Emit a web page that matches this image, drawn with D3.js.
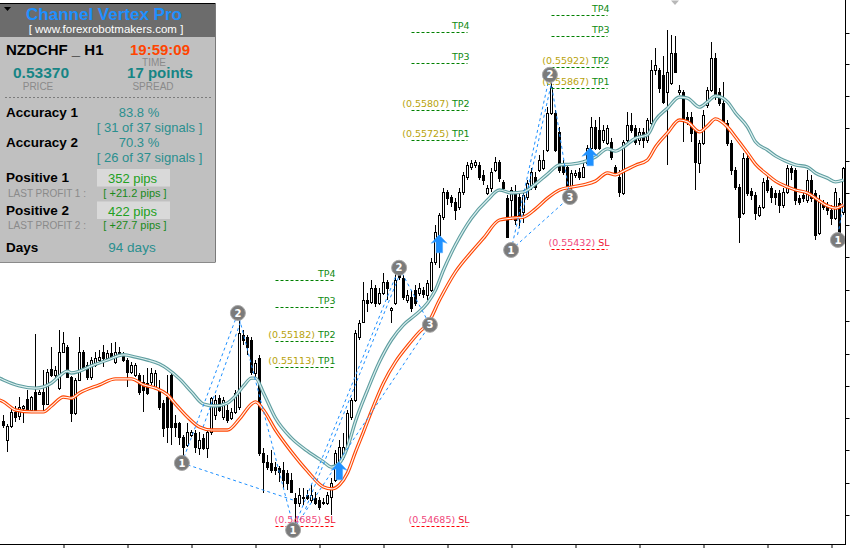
<!DOCTYPE html>
<html><head><meta charset="utf-8">
<script src="https://cdn.jsdelivr.net/npm/d3@7"></script>
<style>body{margin:0;background:#fff}svg{display:block}</style>
</head><body><svg id="c" width="850" height="548"></svg>
<script>
// ---------------- DATA ----------------
const symbol = "NZDCHF _ H1";
const open = [
0.54967,0.54916,0.54954,0.54992,0.54981,0.55002,0.55027,0.54997,0.55046,0.55040,
0.55046,0.55013,0.55108,0.55092,0.55056,0.55154,0.55167,0.55086,0.54989,0.55078,
0.55154,0.55119,0.55086,0.55119,0.55132,0.55154,0.55137,0.55151,0.55127,0.55154,
0.55146,0.55132,0.55100,0.55092,0.55092,0.55073,0.55070,0.55073,0.55059,0.55051,
0.55016,0.55032,0.55092,0.54962,0.54962,0.54924,0.54903,0.54930,0.54935,0.54894,
0.54921,0.54894,0.54938,0.54984,0.55029,0.54978,0.54997,0.54975,0.54992,0.55005,
0.55200,0.55194,0.55186,0.55097,0.55137,0.54881,0.54857,0.54854,0.54843,0.54840,
0.54835,0.54827,0.54808,0.54759,0.54746,0.54759,0.54768,0.54754,0.54759,0.54754,
0.54749,0.54746,0.54762,0.54808,0.54827,0.54870,0.54897,0.54978,0.55024,0.55194,
0.55235,0.55294,0.55289,0.55326,0.55286,0.55313,0.55343,0.55267,0.55286,0.55370,
0.55353,0.55294,0.55302,0.55321,0.55313,0.55321,0.55308,0.55321,0.55397,0.55470,
0.55518,0.55586,0.55572,0.55559,0.55545,0.55586,0.55626,0.55653,0.55659,0.55659,
0.55632,0.55583,0.55596,0.55645,0.55667,0.55613,0.55569,0.55564,0.55583,0.55572,
0.55532,0.55572,0.55605,0.55626,0.55645,0.55650,0.55699,0.55799,0.55799,0.55748,
0.55659,0.55653,0.55599,0.55632,0.55640,0.55626,0.55664,0.55704,0.55761,0.55753,
0.55726,0.55718,0.55721,0.55653,0.55626,0.55583,0.55726,0.55767,0.55758,0.55726,
0.55748,0.55726,0.55772,0.55915,0.55915,0.55901,0.55856,0.55880,0.55961,0.55856,
0.55856,0.55788,0.55788,0.55753,0.55664,0.55718,0.55820,0.55861,0.55947,0.55856,
0.55826,0.55772,0.55718,0.55645,0.55599,0.55529,0.55677,0.55588,0.55578,0.55524,
0.55545,0.55618,0.55596,0.55583,0.55583,0.55551,0.55586,0.55650,0.55645,0.55569,
0.55578,0.55564,0.55618,0.55583,0.55475,0.55556,0.55545,0.55537,0.55515,0.55556,
0.55532];
const high = [
0.54984,0.54959,0.55005,0.55008,0.55032,0.55011,0.55051,0.55035,0.55202,0.55051,
0.55105,0.55108,0.55167,0.55116,0.55213,0.55208,0.55173,0.55089,0.55083,0.55194,
0.55159,0.55127,0.55140,0.55154,0.55159,0.55173,0.55159,0.55178,0.55181,0.55167,
0.55154,0.55137,0.55127,0.55124,0.55097,0.55092,0.55110,0.55110,0.55105,0.55078,
0.55024,0.55092,0.55097,0.54984,0.54965,0.54930,0.54962,0.54943,0.54943,0.54938,
0.54932,0.54943,0.55032,0.55038,0.55038,0.55032,0.55011,0.55002,0.55051,0.55245,
0.55213,0.55200,0.55194,0.55132,0.55146,0.54894,0.54876,0.54889,0.54857,0.54846,
0.54857,0.54835,0.54827,0.54773,0.54786,0.54786,0.54781,0.54795,0.54776,0.54762,
0.54759,0.54776,0.54813,0.54889,0.54916,0.54935,0.54997,0.55029,0.55213,0.55240,
0.55343,0.55313,0.55348,0.55334,0.55326,0.55367,0.55348,0.55275,0.55367,0.55386,
0.55362,0.55321,0.55321,0.55334,0.55340,0.55329,0.55348,0.55407,0.55497,0.55529,
0.55596,0.55591,0.55578,0.55569,0.55596,0.55640,0.55667,0.55672,0.55672,0.55667,
0.55645,0.55605,0.55650,0.55680,0.55672,0.55618,0.55578,0.55599,0.55605,0.55583,
0.55591,0.55618,0.55650,0.55640,0.55686,0.55699,0.55815,0.55893,0.55807,0.55761,
0.55672,0.55659,0.55645,0.55645,0.55650,0.55672,0.55713,0.55788,0.55780,0.55788,
0.55767,0.55767,0.55731,0.55659,0.55645,0.55726,0.55802,0.55799,0.55767,0.55758,
0.55758,0.55785,0.55942,0.55974,0.55920,0.55953,0.56023,0.56009,0.56007,0.55874,
0.55861,0.55802,0.55802,0.55758,0.55726,0.55807,0.55869,0.55991,0.55961,0.55866,
0.55883,0.55780,0.55726,0.55653,0.55607,0.55691,0.55686,0.55596,0.55586,0.55551,
0.55623,0.55632,0.55602,0.55591,0.55591,0.55596,0.55659,0.55656,0.55650,0.55578,
0.55586,0.55645,0.55632,0.55591,0.55578,0.55564,0.55559,0.55551,0.55596,0.55569,
0.55653];
const low = [
0.54948,0.54884,0.54948,0.54965,0.54970,0.54962,0.54992,0.54992,0.54994,0.55038,
0.54992,0.55011,0.55086,0.55083,0.55051,0.55151,0.55083,0.54965,0.54984,0.55075,
0.55105,0.55078,0.55078,0.55113,0.55127,0.55113,0.55132,0.55132,0.55121,0.55143,
0.55127,0.55059,0.55094,0.55086,0.55038,0.54992,0.55038,0.55065,0.55051,0.54997,
0.54924,0.54908,0.54903,0.54924,0.54903,0.54870,0.54897,0.54924,0.54881,0.54876,
0.54889,0.54867,0.54930,0.54970,0.54992,0.54970,0.54962,0.54970,0.54986,0.54997,
0.55173,0.55146,0.55092,0.55083,0.54873,0.54773,0.54835,0.54827,0.54822,0.54803,
0.54786,0.54781,0.54773,0.54673,0.54735,0.54741,0.54754,0.54746,0.54741,0.54727,
0.54741,0.54741,0.54714,0.54803,0.54816,0.54862,0.54894,0.54970,0.55019,0.55186,
0.55232,0.55262,0.55283,0.55275,0.55281,0.55308,0.55294,0.55232,0.55281,0.55348,
0.55294,0.55286,0.55262,0.55278,0.55305,0.55300,0.55294,0.55316,0.55389,0.55380,
0.55510,0.55551,0.55545,0.55510,0.55537,0.55578,0.55618,0.55645,0.55650,0.55618,
0.55605,0.55578,0.55586,0.55640,0.55613,0.55586,0.55461,0.55510,0.55497,0.55488,
0.55502,0.55564,0.55591,0.55591,0.55640,0.55645,0.55694,0.55794,0.55694,0.55637,
0.55632,0.55591,0.55591,0.55623,0.55618,0.55623,0.55659,0.55699,0.55699,0.55699,
0.55718,0.55713,0.55672,0.55632,0.55572,0.55578,0.55721,0.55745,0.55713,0.55713,
0.55704,0.55718,0.55767,0.55901,0.55853,0.55823,0.55658,0.55874,0.55907,0.55848,
0.55721,0.55767,0.55721,0.55591,0.55637,0.55713,0.55812,0.55856,0.55834,0.55818,
0.55767,0.55710,0.55632,0.55591,0.55448,0.55524,0.55575,0.55564,0.55510,0.55518,
0.55540,0.55583,0.55556,0.55551,0.55529,0.55542,0.55580,0.55618,0.55551,0.55551,
0.55559,0.55556,0.55559,0.55456,0.55470,0.55537,0.55524,0.55497,0.55510,0.55456,
0.55524];
const close = [
0.54957,0.54954,0.54992,0.54978,0.55005,0.55008,0.54997,0.55032,0.54997,0.55046,
0.55013,0.55100,0.55092,0.55105,0.55154,0.55178,0.55086,0.54989,0.55078,0.55154,
0.55113,0.55086,0.55132,0.55137,0.55140,0.55137,0.55151,0.55137,0.55154,0.55151,
0.55132,0.55100,0.55119,0.55119,0.55046,0.55051,0.55043,0.55097,0.55097,0.55005,
0.54948,0.54951,0.54951,0.54951,0.54924,0.54897,0.54938,0.54938,0.54897,0.54916,
0.54894,0.54938,0.55029,0.55024,0.54997,0.55024,0.54970,0.54992,0.55043,0.55205,
0.55186,0.55167,0.55100,0.55124,0.54881,0.54857,0.54843,0.54835,0.54835,0.54830,
0.54808,0.54800,0.54776,0.54746,0.54768,0.54762,0.54759,0.54768,0.54746,0.54735,
0.54746,0.54768,0.54800,0.54881,0.54897,0.54897,0.54989,0.55024,0.55205,0.55232,
0.55294,0.55286,0.55326,0.55286,0.55313,0.55343,0.55326,0.55272,0.55348,0.55356,
0.55302,0.55308,0.55272,0.55286,0.55326,0.55310,0.55340,0.55397,0.55478,0.55524,
0.55586,0.55569,0.55559,0.55537,0.55586,0.55632,0.55659,0.55664,0.55667,0.55626,
0.55618,0.55596,0.55640,0.55667,0.55623,0.55596,0.55464,0.55591,0.55510,0.55518,
0.55578,0.55610,0.55640,0.55599,0.55672,0.55672,0.55799,0.55869,0.55699,0.55645,
0.55640,0.55599,0.55637,0.55637,0.55626,0.55653,0.55704,0.55761,0.55704,0.55704,
0.55753,0.55758,0.55680,0.55640,0.55586,0.55721,0.55767,0.55753,0.55721,0.55748,
0.55726,0.55780,0.55915,0.55928,0.55866,0.55829,0.55910,0.55961,0.55910,0.55861,
0.55780,0.55780,0.55745,0.55667,0.55718,0.55794,0.55861,0.55947,0.55848,0.55826,
0.55772,0.55718,0.55645,0.55599,0.55518,0.55677,0.55583,0.55578,0.55529,0.55545,
0.55613,0.55591,0.55572,0.55572,0.55551,0.55586,0.55650,0.55640,0.55564,0.55559,
0.55569,0.55618,0.55569,0.55470,0.55564,0.55545,0.55537,0.55515,0.55586,0.55475,
0.55650];

// channel lines (sampled at bar index)
const tealIdx = [-1,0,4,8,12,14,16,17,19,22,26,30,33,36,39,41,44,47,50,53,56,58,60,62,63,65,68,72,76,80,82,84,86,88,91,94,97,100,103,106,108,110,113,117,121,124,127,130,133,136,139,142,145,148,151,153,155,158,161,163,166,169,171,174,176,178,181,183,186,188,191,193,196,198,201,203,206,208,210];
const tealVal = [0.55083,0.55078,0.55062,0.55056,0.55070,0.55089,0.55102,0.55097,0.55102,0.55116,0.55132,0.55146,0.55140,0.55132,0.55121,0.55108,0.55081,0.55046,0.55013,0.55008,0.55016,0.55035,0.55062,0.55083,0.55083,0.55043,0.54975,0.54921,0.54886,0.54857,0.54843,0.54854,0.54897,0.54967,0.55051,0.55127,0.55186,0.55227,0.55254,0.55286,0.55321,0.55375,0.55443,0.55515,0.55564,0.55591,0.55583,0.55586,0.55607,0.55634,0.55659,0.55661,0.55667,0.55680,0.55702,0.55696,0.55707,0.55731,0.55740,0.55780,0.55812,0.55842,0.55839,0.55815,0.55829,0.55845,0.55829,0.55799,0.55761,0.55721,0.55699,0.55683,0.55667,0.55659,0.55653,0.55637,0.55623,0.55613,0.55618];
const orangeIdx = [-1,0,3,7,10,12,15,17,19,24,28,32,35,38,41,43,46,49,52,56,59,62,63,65,68,72,76,80,82,84,86,88,90,92,95,98,101,104,106,109,113,117,120,124,127,130,133,136,139,142,145,148,151,153,155,158,161,163,166,169,171,174,176,178,181,183,186,188,191,193,196,198,201,203,206,208,210];
const orangeVal = [0.55024,0.55019,0.54997,0.54992,0.54992,0.55008,0.55032,0.55029,0.55043,0.55065,0.55081,0.55081,0.55065,0.55056,0.55038,0.55013,0.54978,0.54951,0.54943,0.54943,0.54973,0.55013,0.55019,0.54997,0.54943,0.54884,0.54832,0.54789,0.54784,0.54795,0.54827,0.54884,0.54938,0.54994,0.55070,0.55127,0.55170,0.55208,0.55229,0.55294,0.55370,0.55424,0.55461,0.55510,0.55515,0.55518,0.55540,0.55569,0.55591,0.55599,0.55605,0.55615,0.55637,0.55632,0.55642,0.55658,0.55672,0.55707,0.55745,0.55780,0.55775,0.55748,0.55764,0.55783,0.55761,0.55734,0.55691,0.55661,0.55632,0.55615,0.55599,0.55591,0.55583,0.55569,0.55548,0.55542,0.55551];

// pattern (dashed) segments: [barIndex, price] pairs
const patternLines = [
 [[44.6,0.54854],[58.6,0.55259]],
 [[49.9,0.54951],[59.9,0.55254]],
 [[58.6,0.55259],[72.4,0.54686]],
 [[44.6,0.54854],[72.4,0.54754]],
 [[72.4,0.54673],[98.9,0.55381]],
 [[75.5,0.54730],[99.6,0.55378]],
 [[72.4,0.54673],[106.6,0.55227]],
 [[98.9,0.55381],[106.6,0.55227]],
 [[126.9,0.55429],[136.6,0.55902]],
 [[128.5,0.55470],[137.2,0.55890]],
 [[136.6,0.55902],[141.6,0.55572]],
 [[126.9,0.55429],[141.6,0.55572]],
 [[208.6,0.55469],[209.9,0.55551]]
];
const pointIdx   = [44.6, 58.6, 72.4, 98.9, 106.6, 126.9, 136.6, 141.6, 208.6];
const pointPrice = [0.54854,0.55259,0.54673,0.55381,0.55227,0.55429,0.55902,0.55572,0.55456];
const pointNum   = [1,2,1,2,3,1,2,3,1];
const arrowIdx   = [83.9, 108.9, 146.6];
const arrowPrice = [0.54857, 0.55470, 0.55705];

// target / stop levels
const setFrom = [68, 102, 137];
const setTo   = [82.5, 116, 151];
const tp1 = [0.55113, 0.55725, 0.55867];
const tp2 = [0.55182, 0.55807, 0.55922];
const tp3 = [0.55275, 0.55934, 0.56007];
const tp4 = [0.55348, 0.56018, 0.56064];
const sl  = [0.54685, 0.54685, 0.55432];

// axes (labels lie outside the visible window in the reference)
const yTicks = [0.56016,0.55931,0.55845,0.55758,0.55670,0.55582,0.55496,0.55409,0.55321,0.55236,0.55149,0.55062,0.54975,0.54889,0.54801,0.54714];
const xTicks = [15,31,47,63,79,95,111,127,143,159,175,191,207];

// info panel texts
const panelTitle = "Channel Vertex Pro";
const panelSite = "[ www.forexrobotmakers.com ]";
const panelTime = "19:59:09", panelPrice = "0.53370", panelSpread = "17 points";
const accLabels = ["Accuracy 1","Accuracy 2"];
const accPct = ["83.8 %","70.3 %"];
const accSig = ["[ 31 of 37 signals ]","[ 26 of 37 signals ]"];
const posLabels = ["Positive 1","Positive 2"];
const posPips = ["352 pips","422 pips"];
const lastLabels = ["LAST PROFIT 1 :","LAST PROFIT 2 :"];
const lastPips = ["[ +21.2 pips ]","[ +27.7 pips ]"];
const daysText = "94 days";

// ---------------- DRAW ----------------
const W = 850, H = 548;
const svg = d3.select('#c');
svg.append('rect').attr('width',W).attr('height',H).attr('fill','#fff');
const x = d3.scaleLinear().domain([0,210]).range([3.5,843.5]);
const y = d3.scaleLinear().domain([0.56104,0.54754]).range([0,500]);
svg.append('defs').append('clipPath').attr('id','clip')
  .append('rect').attr('x',0).attr('y',0).attr('width',845.5).attr('height',544.5);
const plot = svg.append('g').attr('clip-path','url(#clip)');

const bars = d3.range(open.length);
plot.append('g').selectAll('line').data(bars).join('line')
  .attr('x1',i=>x(i)).attr('x2',i=>x(i))
  .attr('y1',i=>Math.round(y(high[i]))).attr('y2',i=>Math.round(y(low[i])))
  .attr('stroke','#000').attr('stroke-width',1);
plot.append('g').selectAll('rect').data(bars).join('rect')
  .attr('x',i=>x(i)-1)
  .attr('y',i=>Math.round(y(Math.max(open[i],close[i])))+0.5)
  .attr('width',2)
  .attr('height',i=>Math.max(0,Math.round(y(Math.min(open[i],close[i])))-Math.round(y(Math.max(open[i],close[i])))))
  .attr('fill',i=>close[i]>=open[i]?'#fff':'#000')
  .attr('stroke','#000').attr('stroke-width',1);

// channel lines
const ln = d3.line().x(d=>x(d[0])).y(d=>y(d[1])).curve(d3.curveMonotoneX);
const tealPts = tealIdx.map((v,k)=>[v,tealVal[k]]);
const orPts = orangeIdx.map((v,k)=>[v,orangeVal[k]]);
plot.append('path').attr('d',ln(tealPts)).attr('fill','none').attr('stroke','#5f9ea0').attr('stroke-width',3.4);
plot.append('path').attr('d',ln(tealPts)).attr('fill','none').attr('stroke','#dcefef').attr('stroke-width',1.2);
plot.append('path').attr('d',ln(orPts)).attr('fill','none').attr('stroke','#ff4500').attr('stroke-width',3.4);
plot.append('path').attr('d',ln(orPts)).attr('fill','none').attr('stroke','#fff4ee').attr('stroke-width',1.2);

// pattern dashed lines
const segLine = d3.line().x(d=>x(d[0])).y(d=>y(d[1]));
plot.append('g').selectAll('path').data(patternLines).join('path')
  .attr('d',d=>segLine(d)).attr('fill','none')
  .attr('stroke','#1e90ff').attr('stroke-width',1).attr('stroke-dasharray','3,3');

// TP / SL levels
const lvlG = plot.append('g').attr('font-family','DejaVu Sans, Verdana, sans-serif').attr('font-size',9.5);
setFrom.forEach((f,s)=>{
  const levels = [tp1[s],tp2[s],tp3[s],tp4[s]];
  levels.forEach((v,k)=>{
    const yy = Math.round(y(v))+0.5;
    lvlG.append('line').attr('x1',x(f)).attr('x2',x(setTo[s])).attr('y1',yy).attr('y2',yy)
      .attr('stroke','#008000').attr('stroke-dasharray','3,2');
    const t = lvlG.append('text').attr('x',x(setTo[s])+2).attr('y',yy-3.5).attr('text-anchor','end');
    if(k<2) t.append('tspan').attr('fill','#b8a20a').text('('+d3.format('.5f')(v)+')');
    t.append('tspan').attr('fill','#108a10').text((k<2?' ':'')+'TP'+(k+1));
  });
  const ys = Math.round(y(sl[s]))+0.5;
  lvlG.append('line').attr('x1',x(f)).attr('x2',x(setTo[s])).attr('y1',ys).attr('y2',ys)
    .attr('stroke','#ff0000').attr('stroke-dasharray','3,2');
  const ts = lvlG.append('text').attr('x',x(setTo[s])+2).attr('y',ys-3.5).attr('text-anchor','end');
  ts.append('tspan').attr('fill','#f0457a').text('('+d3.format('.5f')(sl[s])+')');
  ts.append('tspan').attr('fill','#ee1133').text(' SL');
});

// arrows
plot.append('g').selectAll('path').data(arrowIdx.map((v,k)=>[v,arrowPrice[k]])).join('path')
  .attr('transform',d=>`translate(${x(d[0])},${y(d[1])})`)
  .attr('d','M0,0 L8,8.5 L3.5,7 L3.5,18 L-3,18 L-3,7 L-8,8.5 Z')
  .attr('fill','#1e90ff').attr('stroke','#4aa8ff').attr('stroke-width',0.5);

// pattern points
const pg = plot.append('g').selectAll('g').data(pointIdx.map((v,k)=>[v,pointPrice[k],pointNum[k]])).join('g')
  .attr('transform',d=>`translate(${x(d[0])},${y(d[1])})`);
pg.append('circle').attr('r',7.5).attr('fill','#7b7b7b').attr('stroke','#a8a8a8').attr('stroke-width',1);
pg.append('text').attr('text-anchor','middle').attr('dy','0.36em')
  .attr('font-family','DejaVu Sans, sans-serif').attr('font-weight','bold').attr('font-size',10)
  .attr('fill','#fff').text(d=>d[2]);

// chart-shift marker
svg.append('path').attr('d','M671,0.5 L679,0.5 L675,5 Z').attr('fill','#b8b8b8');

// axes / frame
svg.append('line').attr('x1',845.5).attr('x2',845.5).attr('y1',0).attr('y2',545).attr('stroke','#000');
svg.append('line').attr('x1',0).attr('x2',846).attr('y1',544.5).attr('y2',544.5).attr('stroke','#000');
const ya = svg.append('g').attr('transform','translate(845.5,0)')
  .call(d3.axisRight(y).tickValues(yTicks).tickSize(4).tickSizeOuter(0).tickFormat(''));
ya.select('.domain').remove();
ya.selectAll('.tick').attr('transform',d=>`translate(0,${Math.round(y(d))+0.5})`);
ya.selectAll('.tick line').attr('stroke','#000');
const xa = svg.append('g').attr('transform','translate(0,544.5)')
  .call(d3.axisBottom(x).tickValues(xTicks).tickSize(4).tickSizeOuter(0).tickFormat(''));
xa.select('.domain').remove();
xa.selectAll('.tick line').attr('stroke','#000');

// ---------------- INFO PANEL ----------------
const P = svg.append('g').attr('font-family','Liberation Sans, Arial, sans-serif');
P.append('rect').attr('x',0).attr('y',3).attr('width',215).attr('height',259).attr('fill','#c0c0c0');
P.append('rect').attr('x',0).attr('y',4).attr('width',215).attr('height',33).attr('fill','#6c6c6c');
P.append('line').attr('x1',0).attr('x2',215).attr('y1',3.5).attr('y2',3.5).attr('stroke','#000');
P.append('line').attr('x1',215.5).attr('x2',215.5).attr('y1',3).attr('y2',262.5).attr('stroke','#7a7a7a');
P.append('line').attr('x1',0).attr('x2',215).attr('y1',262.5).attr('y2',262.5).attr('stroke','#8a8a8a');
P.append('path').attr('d','M4,7 L11,7 L7.5,11 Z').attr('fill','#000');
P.append('text').attr('x',104).attr('y',20).attr('text-anchor','middle').attr('font-weight','bold')
  .attr('font-size',17).attr('fill','#1e90ff').text(panelTitle);
P.append('text').attr('x',106).attr('y',32.5).attr('text-anchor','middle')
  .attr('font-size',11.5).attr('fill','#fff').text(panelSite);
P.append('text').attr('x',6).attr('y',54.5).attr('font-weight','bold').attr('font-size',15).attr('fill','#000').text(symbol);
P.append('text').attr('x',160).attr('y',54.5).attr('text-anchor','middle').attr('font-weight','bold').attr('font-size',15).attr('fill','#ff4500').text(panelTime);
P.append('text').attr('x',154).attr('y',65.5).attr('text-anchor','middle').attr('font-size',10).attr('fill','#8a8a8a').text('TIME');
P.append('text').attr('x',41).attr('y',77.5).attr('text-anchor','middle').attr('font-weight','bold').attr('font-size',15.5).attr('fill','#178585').text(panelPrice);
P.append('text').attr('x',160).attr('y',77.5).attr('text-anchor','middle').attr('font-weight','bold').attr('font-size',15).attr('fill','#178585').text(panelSpread);
P.append('text').attr('x',38).attr('y',89.5).attr('text-anchor','middle').attr('font-size',10).attr('fill','#8a8a8a').text('PRICE');
P.append('text').attr('x',153).attr('y',89.5).attr('text-anchor','middle').attr('font-size',10).attr('fill','#8a8a8a').text('SPREAD');
P.append('line').attr('x1',5).attr('x2',212).attr('y1',97.5).attr('y2',97.5).attr('stroke','#7c7c7c').attr('stroke-dasharray','2,2');
accLabels.forEach((lab,k)=>{
  const b = 117 + k*30;
  P.append('text').attr('x',6).attr('y',b).attr('font-weight','bold').attr('font-size',13.5).attr('fill','#000').text(lab);
  P.append('text').attr('x',139).attr('y',b-0.5).attr('text-anchor','middle').attr('font-size',13).attr('fill','#2a8f8f').text(accPct[k]);
  P.append('text').attr('x',149.5).attr('y',b+15).attr('text-anchor','middle').attr('font-size',13).attr('fill','#2a8f8f').text(accSig[k]);
});
posLabels.forEach((lab,k)=>{
  const b = 182 + k*32.5;
  P.append('text').attr('x',6).attr('y',b).attr('font-weight','bold').attr('font-size',13.5).attr('fill','#000').text(lab);
  P.append('rect').attr('x',97).attr('y',b-13).attr('width',73).attr('height',17.5).attr('fill','#d9d9d9');
  P.append('text').attr('x',132.5).attr('y',b+1).attr('text-anchor','middle').attr('font-size',13).attr('fill','#22a022').text(posPips[k]);
  P.append('text').attr('x',8).attr('y',b+14.5).attr('font-size',10).attr('fill','#8a8a8a').text(lastLabels[k]);
  P.append('text').attr('x',135).attr('y',b+14.5).attr('text-anchor','middle').attr('font-size',11).attr('fill','#1a8a1a').text(lastPips[k]);
});
P.append('text').attr('x',6).attr('y',251.5).attr('font-weight','bold').attr('font-size',13.5).attr('fill','#000').text('Days');
P.append('text').attr('x',132).attr('y',251.5).attr('text-anchor','middle').attr('font-size',13.5).attr('fill','#2a8f8f').text(daysText);
</script>
</body></html>
